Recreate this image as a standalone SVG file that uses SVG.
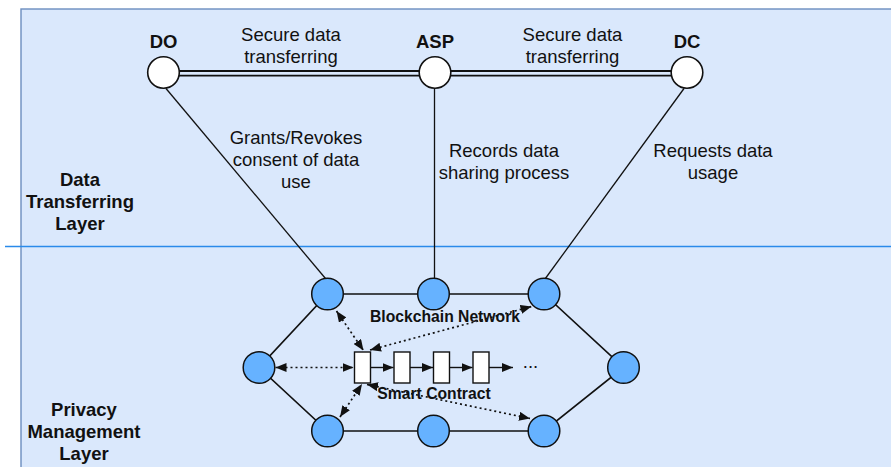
<svg xmlns="http://www.w3.org/2000/svg" width="891" height="467" viewBox="0 0 891 467">
  <style>
    .txt { font-family: "Liberation Sans", Arial, Helvetica, sans-serif; fill: #111; text-anchor: middle; }
    .reg { font-size: 18.5px; }
    .bold { font-size: 18.5px; font-weight: bold; }
    .small { font-size: 15.7px; font-weight: bold; }
    .party { fill: #ffffff; stroke: #111; stroke-width: 1.6; }
    .peer { fill: #66b2ff; stroke: #111; stroke-width: 1.5; }
    .block { fill: #ffffff; stroke: #111; stroke-width: 1.4; }
    .edge { stroke: #111; stroke-width: 1.3; fill: none; }
    .ring { stroke: #111; stroke-width: 1.7; fill: none; }
    .link { stroke: #111; stroke-width: 1.8; fill: none; }
    .dot { stroke: #111; stroke-width: 1.7; fill: none; stroke-dasharray: 2 3; }
    .chain { stroke: #111; stroke-width: 1.4; fill: none; }
  </style>
  <defs>
    <marker id="arrow" viewBox="0 0 11 9" refX="11" refY="4.5" markerWidth="11" markerHeight="9" markerUnits="userSpaceOnUse" orient="auto-start-reverse">
      <path d="M0,0 L11,4.5 L0,9 z" fill="#111"/>
    </marker>
  </defs>

  <!-- layer background -->
  <rect x="21" y="9" width="900" height="500" fill="#dae8fc" stroke="#6c8ebf" stroke-width="1.4"/>
  <line x1="5" y1="246.5" x2="891" y2="246.5" stroke="#2a8aea" stroke-width="1.6"/>

  <!-- connectors -->
  <g id="connectors">
    <!-- secure channels between parties (double line) -->
    <line class="link" x1="164" y1="71" x2="435" y2="71"/>
    <line class="link" x1="164" y1="75.6" x2="435" y2="75.6"/>
    <line class="link" x1="435" y1="71" x2="687" y2="71"/>
    <line class="link" x1="435" y1="75.6" x2="687" y2="75.6"/>

    <!-- parties to blockchain peers -->
    <line class="edge" x1="166" y1="88.5" x2="325.5" y2="278.5"/>
    <line class="edge" x1="434.5" y1="88.5" x2="434.5" y2="278.5"/>
    <line class="edge" x1="684" y1="88.5" x2="545" y2="279"/>

    <!-- peer ring -->
    <polyline class="ring" points="327.5,294 433.5,294 544,294 623.5,367.5 544,431 433.5,431 327.5,431 259,367.5 327.5,294"/>

    <!-- smart contract chain -->
    <line class="chain" x1="370.5" y1="367.5" x2="393.5" y2="367.5" marker-end="url(#arrow)"/>
    <line class="chain" x1="410" y1="367.5" x2="433" y2="367.5" marker-end="url(#arrow)"/>
    <line class="chain" x1="449.5" y1="367.5" x2="472.5" y2="367.5" marker-end="url(#arrow)"/>
    <line class="chain" x1="489" y1="367.5" x2="513" y2="367.5" marker-end="url(#arrow)"/>

    <!-- contract to peers (dotted, both ways) -->
    <line class="dot" x1="336.5" y1="311" x2="363.5" y2="350.5" marker-start="url(#arrow)" marker-end="url(#arrow)"/>
    <line class="dot" x1="275.5" y1="367.5" x2="353.5" y2="367.5" marker-start="url(#arrow)" marker-end="url(#arrow)"/>
    <line class="dot" x1="340" y1="417" x2="362" y2="384" marker-start="url(#arrow)" marker-end="url(#arrow)"/>
    <line class="dot" x1="370" y1="350" x2="531.5" y2="306.5" marker-start="url(#arrow)" marker-end="url(#arrow)"/>
    <line class="dot" x1="367" y1="384.5" x2="530" y2="418.5" marker-start="url(#arrow)" marker-end="url(#arrow)"/>
  </g>

  <!-- parties -->
  <g id="do">
    <circle class="party" cx="163.5" cy="72.5" r="15.8"/>
    <text class="txt bold" x="163.5" y="48.3">DO</text>
  </g>
  <g id="asp">
    <circle class="party" cx="435" cy="72.5" r="15.8"/>
    <text class="txt bold" x="435" y="48.3">ASP</text>
  </g>
  <g id="dc">
    <circle class="party" cx="687" cy="72.5" r="15.8"/>
    <text class="txt bold" x="687" y="48.3">DC</text>
  </g>

  <!-- edge labels -->
  <g id="labels">
    <text class="txt reg" x="291" y="40.5">Secure data</text>
    <text class="txt reg" x="291" y="62.5">transferring</text>
    <text class="txt reg" x="572.5" y="40.5">Secure data</text>
    <text class="txt reg" x="572.5" y="62.5">transferring</text>
    <text class="txt reg" x="296" y="143.5">Grants/Revokes</text>
    <text class="txt reg" x="296" y="165.8">consent of data</text>
    <text class="txt reg" x="296" y="188.1">use</text>
    <text class="txt reg" x="504" y="156.5">Records data</text>
    <text class="txt reg" x="504" y="178.8">sharing process</text>
    <text class="txt reg" x="713" y="156.5">Requests data</text>
    <text class="txt reg" x="713" y="178.8">usage</text>
  </g>

  <!-- layer titles -->
  <g id="layer-data">
    <text class="txt bold" x="80" y="185.5">Data</text>
    <text class="txt bold" x="80" y="207.8">Transferring</text>
    <text class="txt bold" x="80" y="230.1">Layer</text>
  </g>
  <g id="layer-privacy">
    <text class="txt bold" x="84" y="416">Privacy</text>
    <text class="txt bold" x="84" y="438.2">Management</text>
    <text class="txt bold" x="84" y="460.4">Layer</text>
  </g>

  <!-- blockchain peers -->
  <g id="peer-top-left"><circle class="peer" cx="327.5" cy="294" r="15.8"/></g>
  <g id="peer-top-mid"><circle class="peer" cx="433.5" cy="294" r="15.8"/></g>
  <g id="peer-top-right"><circle class="peer" cx="544" cy="294" r="15.8"/></g>
  <g id="peer-right"><circle class="peer" cx="623.5" cy="367.5" r="15.8"/></g>
  <g id="peer-bottom-right"><circle class="peer" cx="544" cy="431" r="15.8"/></g>
  <g id="peer-bottom-mid"><circle class="peer" cx="433.5" cy="431" r="15.8"/></g>
  <g id="peer-bottom-left"><circle class="peer" cx="327.5" cy="431" r="15.8"/></g>
  <g id="peer-left"><circle class="peer" cx="259" cy="367.5" r="15.8"/></g>

  <!-- smart contract blocks -->
  <g id="block-1"><rect class="block" x="354.5" y="352" width="16" height="31"/></g>
  <g id="block-2"><rect class="block" x="394" y="352" width="16" height="31"/></g>
  <g id="block-3"><rect class="block" x="433.5" y="352" width="16" height="31"/></g>
  <g id="block-4"><rect class="block" x="473" y="352" width="16" height="31"/></g>
  <text class="txt reg" x="530.5" y="367.5">...</text>

  <g id="network-labels">
    <text class="txt small" x="445" y="322">Blockchain Network</text>
    <text class="txt small" x="434" y="399.3">Smart Contract</text>
  </g>
</svg>
